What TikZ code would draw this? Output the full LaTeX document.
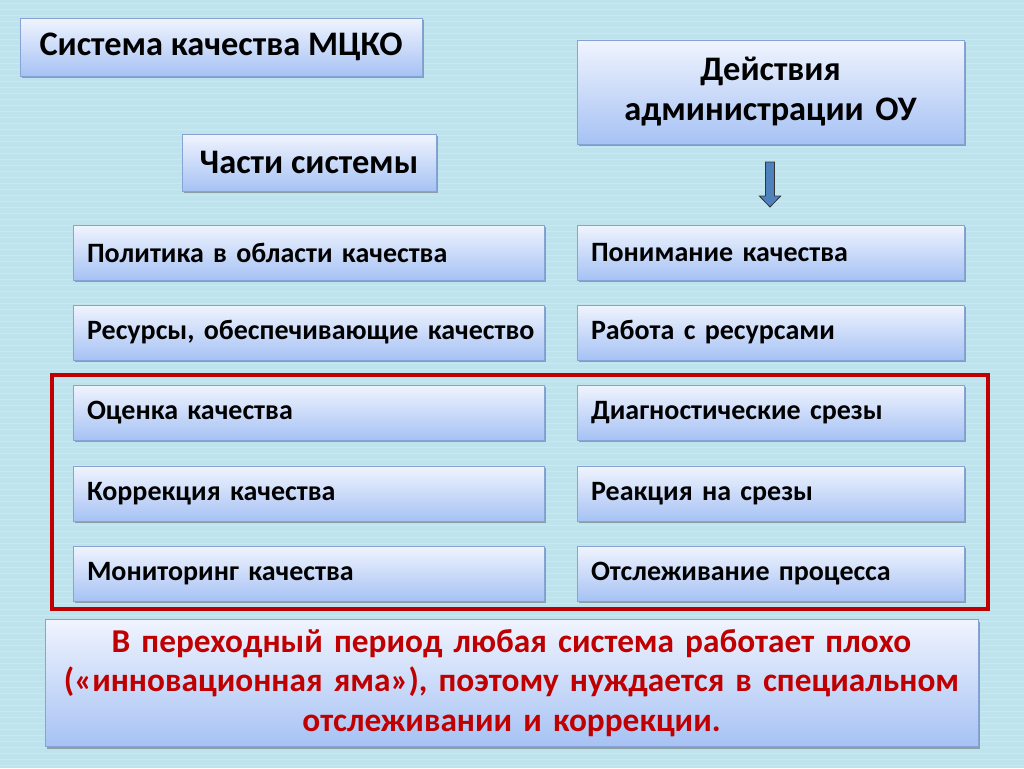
\documentclass[tikz,border=0pt]{standalone}
\usepackage{fontspec}
\setmainfont{Carlito}
\usetikzlibrary{shadows}
\definecolor{bg}{RGB}{190,227,236}
\definecolor{boxtop}{RGB}{240,244,254}
\definecolor{boxbot}{RGB}{166,194,244}
\definecolor{boxline}{RGB}{135,163,212}
\definecolor{darkred}{RGB}{192,0,0}
\definecolor{arrowblue}{RGB}{79,129,189}
\tikzset{
  box/.style={draw=boxline, line width=0.6pt, top color=boxtop, bottom color=boxbot,
    drop shadow={shadow xshift=1.8pt, shadow yshift=-1.8pt, opacity=0.45, fill=black!70},
    font=\bfseries, text=black},
  titlebox/.style={box, font=\bfseries\fontsize{25.8}{30}\selectfont, align=center, inner sep=0pt},
  leftbox/.style={box, minimum width=353.25pt, minimum height=41.25pt, text width=332.25pt,
    inner xsep=10.5pt, inner ysep=0pt, align=left, font=\bfseries\fontsize{21}{24}\selectfont},
  rightbox/.style={box, minimum width=290.25pt, minimum height=41.25pt, text width=269.25pt,
    inner xsep=10.5pt, inner ysep=0pt, align=left, font=\bfseries\fontsize{21}{24}\selectfont},
  redframe/.style={draw=darkred, line width=2.3pt},
  bigarrow/.style={draw=black!80, line width=0.6pt, fill=arrowblue}
}
\begin{document}
\begin{tikzpicture}[x=0.75pt,y=-0.75pt]
\fill[bg] (0,0) rectangle (1024,768);
\useasboundingbox (0,0) rectangle (1024,768);
% faint texture
\foreach \i in {3,9,...,765} {
  \draw[white, opacity=0.18, line width=0.4pt] (0,\i) -- (1024,\i);
}
\node[titlebox, minimum width=301.5pt, minimum height=43.5pt] (sys) at (221,47) {\raisebox{-3pt}{Система качества МЦКО}};
\node[titlebox, minimum width=190.5pt, minimum height=42.75pt] (parts) at (309,162.5) {\raisebox{-1.5pt}{Части системы}};
\node[titlebox, minimum width=290.25pt, minimum height=78pt, text width=280pt] (act) at (770.5,92) {Действия\\администрации ОУ};

\node[leftbox] (l1) at (308.5,252.5) {Политика в области качества};
\node[leftbox] (l2) at (308.5,332.5) {\mbox{Ресурсы, обеспечивающие качество}};
\node[leftbox] (l3) at (308.5,412.5) {Оценка качества};
\node[leftbox] (l4) at (308.5,493.5) {Коррекция качества};
\node[leftbox] (l5) at (308.5,573.5) {Мониторинг качества};

\node[rightbox] (r1) at (770.5,252.5) {Понимание качества};
\node[rightbox] (r2) at (770.5,332.5) {Работа с ресурсами};
\node[rightbox] (r3) at (770.5,412.5) {Диагностические срезы};
\node[rightbox] (r4) at (770.5,493.5) {Реакция на срезы};
\node[rightbox] (r5) at (770.5,573.5) {Отслеживание процесса};

\coordinate (frameA) at (52,375);
\coordinate (frameB) at (988,609);
\draw[redframe] (frameA) rectangle (frameB);

\node[box, minimum width=699.75pt, minimum height=95.25pt, text width=690pt, align=center,
  inner sep=0pt, text=darkred, font=\bfseries\fontsize{25}{29.4}\selectfont] (note) at (511.5,683)
  {В переходный период любая система работает плохо\\(«инновационная яма»), поэтому нуждается в специальном\\отслеживании и коррекции.};

% arrow
\coordinate (arA) at (770,162);
\coordinate (arB) at (770,207);
\draw[bigarrow] ([xshift=-3.4pt]arA) -- ([xshift=3.4pt]arA) -- ([xshift=3.4pt,yshift=8.25pt]arB)
  -- ([xshift=8pt,yshift=8.25pt]arB) -- (arB) -- ([xshift=-8pt,yshift=8.25pt]arB)
  -- ([xshift=-3.4pt,yshift=8.25pt]arB) -- cycle;
\end{tikzpicture}
\end{document}
